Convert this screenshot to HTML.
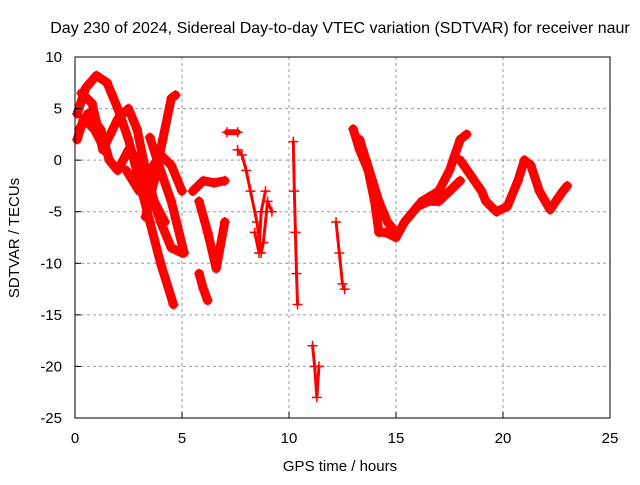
<!DOCTYPE html>
<html><head><meta charset="utf-8"><style>
body{margin:0;background:#fff}
svg{font-family:"Liberation Sans",sans-serif}
</style></head><body>
<svg id="c" width="640" height="480">
<rect width="640" height="480" fill="#fff"/>
<text x="340" y="33" font-size="16" text-anchor="middle">Day 230 of 2024, Sidereal Day-to-day VTEC variation (SDTVAR) for receiver naur</text>
<text x="340" y="471" font-size="15" text-anchor="middle">GPS time / hours</text>
<text transform="translate(19,238) rotate(-90)" font-size="15" text-anchor="middle">SDTVAR / TECUs</text>
<g id="grid"></g><g id="marks"></g>
<rect x="75" y="57" width="535" height="361" fill="none" stroke="#000"/>
</svg>
<script>
const xTicks=[0,5,10,15,20,25];
const yTicks=[10,5,0,-5,-10,-15,-20,-25];
const trackHours=[
[0.1,0.5,1,1.5,2,2.5,3,3.5,4,4.6],
[0.2,0.6,1.2,1.6,2,2.5,3,3.5,4,4.5,5],
[3.3,3.7,4.1,4.5,4.7],
[0.3,0.8,1.3,2,2.5,2.9,3.3,3.7,4.2],
[2.4,3,3.5,4,4.5,5],
[3.5,4,4.5,5.1],
[0.1,0.4,0.9,1.4],
[5.5,6,6.5,7],
[5.8,6.2,6.6,7.0],
[5.8,6,6.2],
[7.1,7.6],
[7.6,7.8,8,8.2,8.5,8.7,8.8,9,9.2],
[8.4,8.6,8.7,8.9],
[10.2,10.25,10.3,10.35,10.4],
[11.1,11.2,11.3,11.4],
[12.2,12.35,12.5,12.6],
[13,13.3,13.7,14,14.2,14.5,15,15.4,15.8,16.2,16.6,17,17.5,18,18.3],
[16,16.5,17,17.5,18],
[18,18.5,19,19.2,19.7,20.2,20.7,21,21.3,21.7,22.2,22.8,23],
[13.3,13.6,13.9,14.2,14.6,15]
];
const trackValues=[
[4.5,7,8.2,7.5,5,2,-2,-6,-10,-14],
[3,4.5,3,0,-1,1,0,-3,-6,-8.5,-9],
[-5.5,-2,2,6,6.3],
[6.5,5.5,1,4,5,3,-1,-4,-6],
[-1,-3,-1,0.5,-0.5,-3],
[2.2,-1,-4,-9],
[2,4,3,1],
[-3,-2,-2.2,-2],
[-4,-7,-10.5,-6],
[-11,-12.5,-13.6],
[2.7,2.7],
[1,0.5,-1,-3,-6,-9,-8,-4,-5],
[-7,-9,-5,-3],
[1.8,-3,-7,-11,-14],
[-18,-20,-23,-20],
[-6,-9,-12,-12.5],
[3,1,-1,-4,-7,-7,-7.5,-6,-5,-4,-3.5,-3,-1,2,2.5],
[-4.5,-4,-4,-3,-2],
[0,-1.5,-3,-4,-5,-4.5,-2,0,-0.5,-3,-4.8,-3,-2.5],
[2,0,-2,-4,-6,-7]
];
const X=h=>75+h*535/25, Y=v=>57+(10-v)*361/35;
const NS='http://www.w3.org/2000/svg';
const grid=document.getElementById('grid'), marks=document.getElementById('marks'), svg=document.getElementById('c');
function mk(t,a,p){const e=document.createElementNS(NS,t);for(const k in a)e.setAttribute(k,a[k]);p.appendChild(e);return e;}
xTicks.forEach(t=>{
 if(t>0&&t<25){const l=mk('line',{x1:X(t),x2:X(t),y1:57,y2:418,stroke:'#999','stroke-dasharray':'3,3'},grid);
 
 }
 const tx=mk('text',{x:X(t),y:443,'font-size':15,'text-anchor':'middle'},svg);tx.textContent=t;
 
 
 mk('line',{x1:X(t),x2:X(t),y1:418,y2:412,stroke:'#000'},svg);
});
yTicks.forEach(t=>{
 if(t<10&&t>-25){const l=mk('line',{x1:75,x2:610,y1:Y(t),y2:Y(t),stroke:'#999','stroke-dasharray':'3,3'},grid);
 
 }
 const tx=mk('text',{x:62,y:Y(t)+5,'font-size':15,'text-anchor':'end'},svg);tx.textContent=t;
 
 
 mk('line',{x1:75,x2:81,y1:Y(t),y2:Y(t),stroke:'#000'},svg);
});
const thin=[11,12,13,14,15];
trackHours.forEach((hs,i)=>{
 const vs=trackValues[i];
 const pts=hs.map((h,j)=>X(h)+','+Y(vs[j])).join(' ');
 const isThin=thin.indexOf(i)>=0;
 const pl=mk('polyline',{points:pts,fill:'none',stroke:'#f00','stroke-width':isThin?3:(hs.length>2?9:6),'stroke-linejoin':'round','stroke-linecap':'round'},marks);
 
 
 hs.forEach((h,j)=>{
  const x=X(h),y=Y(vs[j]);
  const p=mk('path',{d:`M${x-5} ${y}H${x+5}M${x} ${y-5}V${y+5}`,stroke:'#f00','stroke-width':1.5},marks);
  
  
 });
});
</script>
</body></html>
